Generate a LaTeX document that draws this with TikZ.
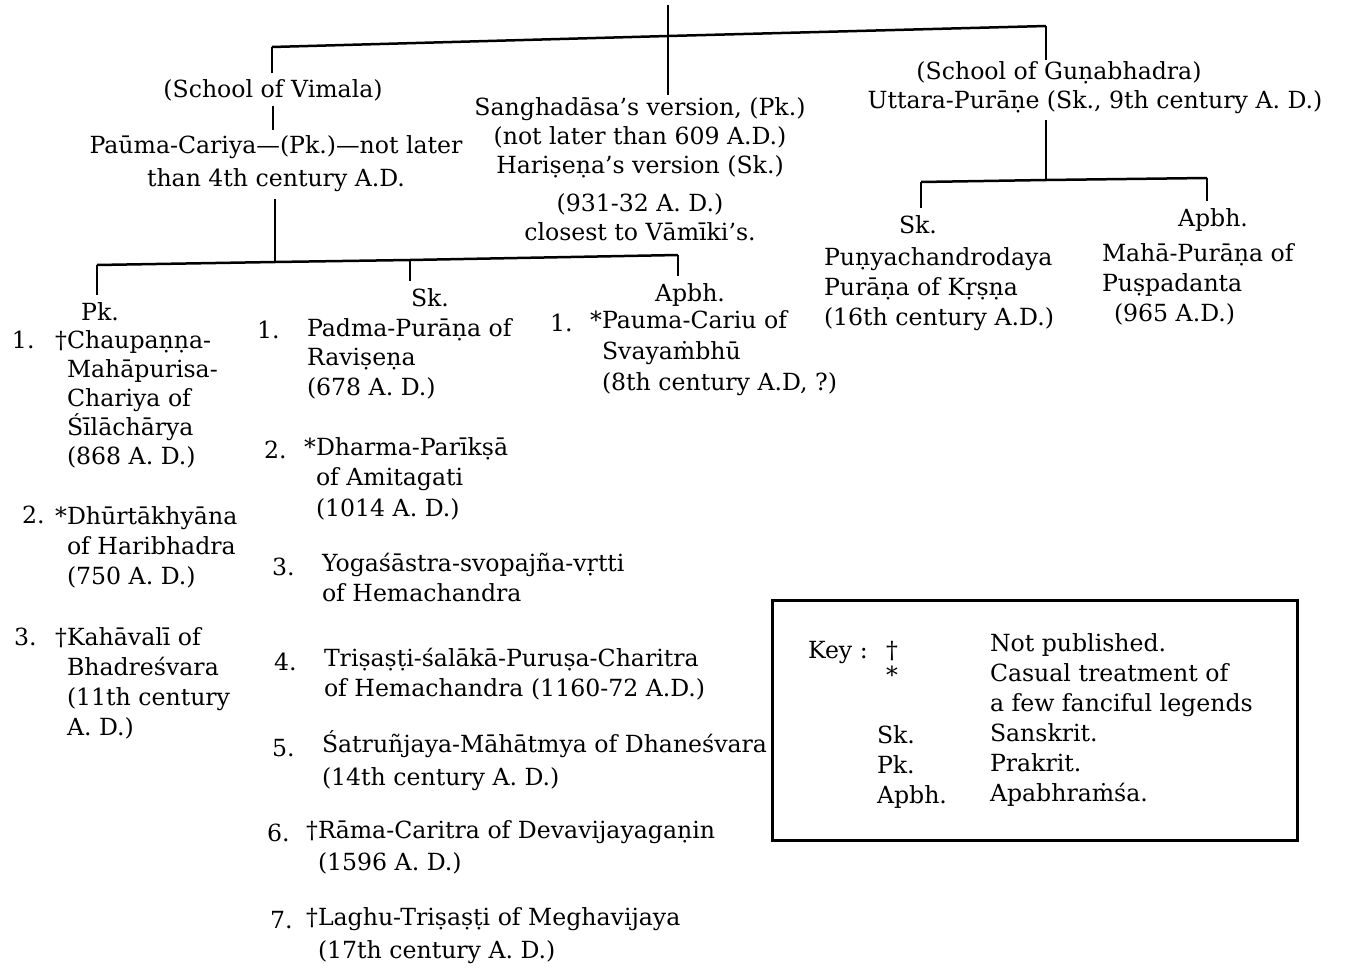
\documentclass[tikz,border=0pt]{standalone}
\usepackage{fontspec}
\setmainfont{DejaVu Serif}
\newcommand{\fs}[1]{\fontsize{23.6}{#1}\selectfont}
\begin{document}
\begin{tikzpicture}[x=1pt,y=1pt,
  txt/.style={font=\fs{29}, inner sep=2pt, outer sep=0pt},
  lbl/.style={txt, anchor=base},
  blk/.style={txt, anchor=base west, align=left},
  num/.style={txt, anchor=base west},
  conn/.style={line width=2.5pt},
  drop/.style={conn, shorten >=5pt},
  keyline/.style={line width=3pt}]
\useasboundingbox (0,0) rectangle (1345,-974);

% multi-line nodes are placed by the baseline of their LAST line

% ---------- upper level ----------
\node[lbl] (vimala) at (273,-98) {(School of Vimala)};
\node[lbl, align=center, font=\fs{33}] (pauma) at (276,-186) {Paūma-Cariya—(Pk.)—not later\\than 4th century A.D.};
\node[lbl, align=center] (sang) at (640,-240) {Sanghadāsa’s version, (Pk.)\\(not later than 609 A.D.)\\Hariṣeṇa’s version (Sk.)\\[9pt](931-32 A. D.)\\closest to Vāmīki’s.};
\node[lbl] (gun1) at (1059,-80) {(School of Guṇabhadra)};
\node[lbl] (gun2) at (1095,-109) {Uttara-Purāṇe (Sk., 9th century A. D.)};

% ---------- Gunabhadra branch ----------
\node[lbl] (rsk) at (918,-233) {Sk.};
\node[lbl] (rap) at (1213,-226) {Apbh.};
\node[blk, font=\fs{30}] (punya) at (822,-325) {Puṇyachandrodaya\\Purāṇa of Kṛṣṇa\\(16th century A.D.)};
\node[blk, font=\fs{30}] (maha) at (1100,-321) {Mahā-Purāṇa of\\Puṣpadanta\\\hspace*{12pt}(965 A.D.)};

% ---------- Vimala branch ----------
\node[lbl] (lpk) at (100,-320) {Pk.};
\node[lbl] (lsk) at (430,-306) {Sk.};
\node[lbl] (lap) at (690,-301) {Apbh.};

% Pk column
\node[num] (p1n) at (10,-348) {1.};
\node[blk] (p1) at (65,-464) {\llap{†}Chaupaṇṇa-\\Mahāpurisa-\\Chariya of\\Śīlāchārya\\(868 A. D.)};
\node[num] (p2n) at (20,-523) {2.};
\node[blk, font=\fs{30}] (p2) at (65,-584) {\llap{*}Dhūrtākhyāna\\of Haribhadra\\(750 A. D.)};
\node[num] (p3n) at (12,-645) {3.};
\node[blk, font=\fs{30}] (p3) at (65,-735) {\llap{†}Kahāvalī of\\Bhadreśvara\\(11th century\\A. D.)};

% Sk column
\node[num] (s1n) at (255,-338) {1.};
\node[blk, font=\fs{29.5}] (s1) at (305,-395) {Padma-Purāṇa of\\Raviṣeṇa\\(678 A. D.)};
\node[num] (s2n) at (262,-458) {2.};
\node[blk, font=\fs{30.5}] (s2) at (314,-516) {\llap{*}Dharma-Parīkṣā\\of Amitagati\\(1014 A. D.)};
\node[num] (s3n) at (270,-575) {3.};
\node[blk, font=\fs{30}] (s3) at (320,-601) {Yogaśāstra-svopajña-vṛtti\\of Hemachandra};
\node[num] (s4n) at (272,-670) {4.};
\node[blk, font=\fs{30}] (s4) at (322,-696) {Triṣaṣṭi-śalākā-Puruṣa-Charitra\\of Hemachandra (1160-72 A.D.)};
\node[num] (s5n) at (270,-756) {5.};
\node[blk, font=\fs{33}] (s5) at (320,-785) {Śatruñjaya-Māhātmya of Dhaneśvara\\(14th century A. D.)};
\node[num] (s6n) at (265,-841) {6.};
\node[blk, font=\fs{32}] (s6) at (316,-870) {\llap{†}Rāma-Caritra of Devavijayagaṇin\\(1596 A. D.)};
\node[num] (s7n) at (268,-928) {7.};
\node[blk, font=\fs{33}] (s7) at (316,-958) {\llap{†}Laghu-Triṣaṣṭi of Meghavijaya\\(17th century A. D.)};

% Apbh column
\node[num] (a1n) at (548,-331) {1.};
\node[blk, font=\fs{31}] (a1) at (600,-390) {\llap{*}Pauma-Cariu of\\Svayaṁbhū\\(8th century A.D, ?)};

% ---------- connectors ----------
\coordinate (topend) at (668,-5);
\coordinate (jL) at (272,-47);
\coordinate (jM) at (668,-36);
\coordinate (jR) at (1046,-26);
\draw[conn] (topend) -- (jM);
\draw[conn] (jL) -- (jM) -- (jR);
\draw[drop] (jL) -- (jL |- vimala.north);
\draw[conn] (jM) -- (jM |- sang.north);
\draw[conn] (jR) -- (jR |- gun1.north);
\draw[conn, shorten <=2pt, shorten >=3pt] (vimala.south) -- (vimala.south |- pauma.north);

\coordinate (pj) at (275,-262);
\coordinate (b1) at (97,-265);
\coordinate (b2) at (410,-260);
\coordinate (b3) at (678,-255);
\draw[conn] ([yshift=-6pt]pauma.south -| pj) -- (pj);
\draw[conn] (b1) -- (pj) -- (b2) -- (b3);
\draw[drop] (b1) -- (b1 |- lpk.north);
\draw[drop] (b2) -- (b2 |- lsk.north);
\draw[drop] (b3) -- (b3 |- lap.north);

\coordinate (gj) at (1046,-180);
\coordinate (r1) at (921,-182);
\coordinate (r2) at (1207,-178);
\draw[conn] ([yshift=-4pt]gun2.south -| gj) -- (gj);
\draw[conn] (r1) -- (gj) -- (r2);
\draw[drop] (r1) -- (r1 |- rsk.north);
\draw[drop] (r2) -- (r2 |- rap.north);

% ---------- key ----------
\node[draw, keyline, anchor=north west, minimum width=525pt, minimum height=240pt, inner sep=0pt, outer sep=0pt] (keybox) at (772,-600) {};
\node[num] (keyw) at (806,-658) {Key :};
\node[num] (kdag) at (884,-658) {†};
\node[num] (kast) at (884,-683) {*};
\node[num] (ksk) at (875,-743) {Sk.};
\node[num] (kpk) at (875,-773) {Pk.};
\node[num] (kap) at (875,-803) {Apbh.};
\node[blk, font=\fs{30}] (kdesc) at (988,-801) {Not published.\\Casual treatment of\\a few fanciful legends\\Sanskrit.\\Prakrit.\\Apabhraṁśa.};
\end{tikzpicture}
\end{document}
